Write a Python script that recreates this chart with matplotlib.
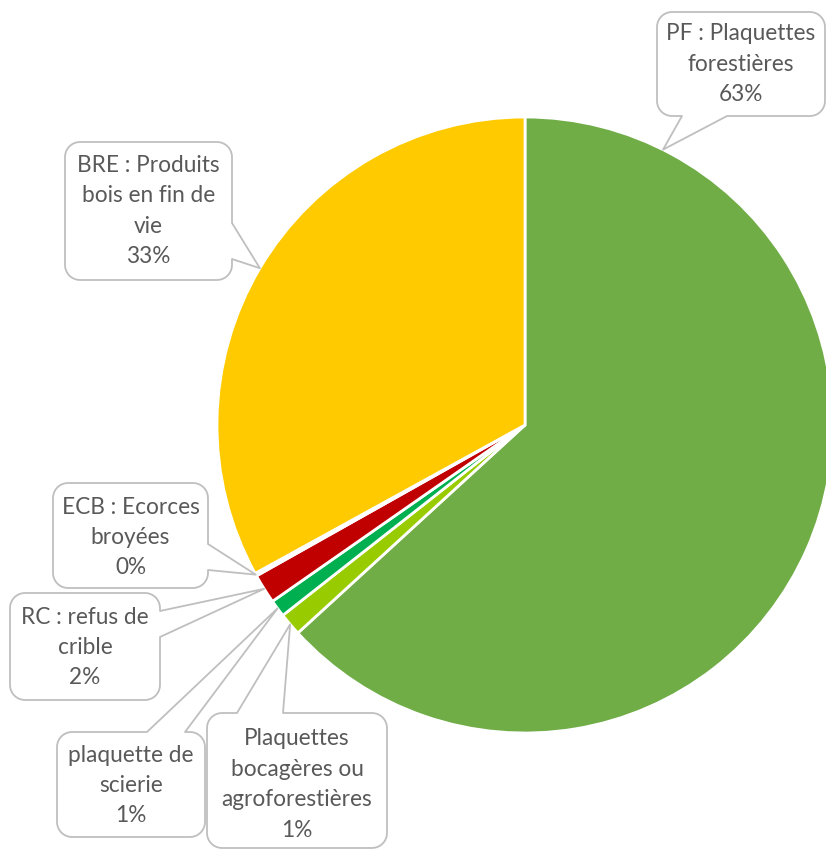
import numpy as np
import matplotlib
matplotlib.use("Agg")
import matplotlib.pyplot as plt
from matplotlib.patches import Polygon

# ---- data ----
categories = ["PF : Plaquettes\nforestières",
              "Plaquettes\nbocagères ou\nagroforestières",
              "plaquette de\nscierie",
              "RC : refus de\ncrible",
              "ECB : Ecorces\nbroyées",
              "BRE : Produits\nbois en fin de\nvie"]
values = [63.2, 1.2, 0.9, 1.55, 0.15, 33.0]
colors = ["#70AD47", "#99CC00", "#00B050", "#C00000", "#ED7D31", "#FFCA00"]

# ---- layout (pixel coords, y down) ----
W, H = 826, 850
CX, CY, R = 525, 425, 308
# box (x0, y0, x1, y1), tail side, tail base (b0, b1), anchor fraction along slice
callouts = [
    dict(box=(657, 12, 825, 116), side="bottom", base=(682, 727), frac=0.117),
    dict(box=(207, 713, 387, 848), side="top", base=(237, 283), frac=0.5),
    dict(box=(57, 732, 205, 837), side="top", base=(147, 185), frac=0.5),
    dict(box=(10, 593, 160, 700), side="right", base=(611, 637), frac=0.5),
    dict(box=(53, 483, 208, 588), side="right", base=(544, 570), frac=0.5),
    dict(box=(65, 142, 232, 280), side="right", base=(223, 259), frac=0.5),
]
text_dy = [0, 4, 1, 1, 2, 0]

plt.rcParams['font.family'] = ['Lato', 'DejaVu Sans']

fig = plt.figure(figsize=(W / 100, H / 100), dpi=100)
ax = fig.add_axes([0, 0, 1, 1])
wedges, _ = ax.pie(values, colors=colors, startangle=90, counterclock=False,
                   center=(CX, H - CY), radius=R,
                   wedgeprops=dict(edgecolor="white", linewidth=2))
ax.set_xlim(0, W)
ax.set_ylim(0, H)
ax.set_aspect("equal")
ax.axis("off")


def arc(cx, cy, r, a0, a1, n=10):
    a = np.radians(np.linspace(a0, a1, n))
    return list(zip(cx + r * np.cos(a), cy + r * np.sin(a)))


def bubble(box, side, base, apex, r=15):
    x0, y0, x1, y1 = box
    b0, b1 = base
    pts = []
    pts += arc(x0 + r, y0 + r, r, 180, 270)
    if side == "top":
        pts += [(b0, y0), apex, (b1, y0)]
    pts += arc(x1 - r, y0 + r, r, 270, 360)
    if side == "right":
        pts += [(x1, b0), apex, (x1, b1)]
    pts += arc(x1 - r, y1 - r, r, 0, 90)
    if side == "bottom":
        pts += [(b1, y1), apex, (b0, y1)]
    pts += arc(x0 + r, y1 - r, r, 90, 180)
    if side == "left":
        pts += [(x0, b1), apex, (x0, b0)]
    return [(px, H - py) for px, py in pts]


for w, cat, val, c, dy in zip(wedges, categories, values, callouts, text_dy):
    ang = np.radians(w.theta2 - c["frac"] * (w.theta2 - w.theta1))
    ax_, ay_ = w.center[0] + w.r * np.cos(ang), w.center[1] + w.r * np.sin(ang)
    apex = (ax_, H - ay_)
    poly = Polygon(bubble(c["box"], c["side"], c["base"], apex), closed=True,
                   facecolor="white", edgecolor="#BFBFBF", linewidth=1.3,
                   joinstyle="round", zorder=3)
    ax.add_patch(poly)
    x0, y0, x1, y1 = c["box"]
    ax.text((x0 + x1) / 2, H - (y0 + y1) / 2 - dy, f"{cat}\n{val:.0f}%",
            ha="center", va="center", multialignment="center",
            fontsize=16.3, color="#595959", linespacing=1.55, zorder=4)

fig.savefig("out.png", dpi=100)
